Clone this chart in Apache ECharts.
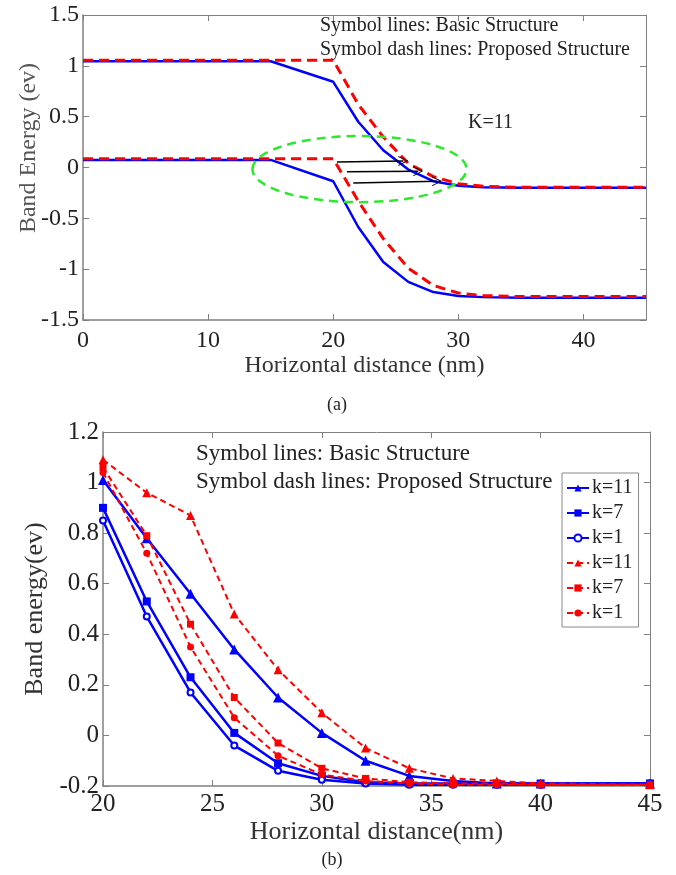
<!DOCTYPE html>
<html>
<head>
<meta charset="utf-8">
<script src="https://cdn.jsdelivr.net/npm/echarts@6/dist/echarts.min.js"></script>
<style>
  html, body { margin: 0; padding: 0; background: #fff; }
  #main { width: 676px; height: 875px; }
</style>
</head>
<body>
<div id="main"></div>
<script>
// (a) band edges along the channel, K=11
const topX = [0, 15, 20, 22, 24, 26, 28, 30, 32, 35, 45]
const basicUpper = [1.045, 1.045, 0.843, 0.45, 0.17, -0.02, -0.135, -0.18, -0.195, -0.2, -0.2]
const proposedUpper = [1.056, 1.056, 1.056, 0.62, 0.30, 0.04, -0.09, -0.16, -0.185, -0.195, -0.195]
const basicLower = [0.075, 0.075, -0.135, -0.585, -0.93, -1.125, -1.225, -1.265, -1.275, -1.28, -1.28]
const proposedLower = [0.085, 0.085, 0.085, -0.33, -0.7, -0.99, -1.16, -1.235, -1.26, -1.27, -1.27]

// arrows inside the highlighted region: [x0, y0, x1, y1]
const arrows = [
  [20.3, 0.055, 25.6, 0.065],
  [21.1, -0.043, 26.8, -0.036],
  [21.6, -0.152, 28.3, -0.135],
]
// highlight ellipse: centre and radii in data units
const ellipseCenter = [22.1, -0.016]
const ellipseRadius = [8.56, 0.325]

// (b) band energy for several k values
const bottomX = [20, 22, 24, 26, 28, 30, 32, 34, 36, 38, 40, 45]
const basicK11 = [1.01, 0.78, 0.56, 0.34, 0.15, 0.01, -0.10, -0.16, -0.18, -0.19, -0.19, -0.19]
const basicK7 = [0.90, 0.53, 0.23, 0.01, -0.11, -0.16, -0.185, -0.19, -0.19, -0.19, -0.19, -0.19]
const basicK1 = [0.85, 0.47, 0.17, -0.04, -0.14, -0.175, -0.19, -0.195, -0.195, -0.195, -0.195, -0.19]
const propK11 = [1.09, 0.96, 0.87, 0.48, 0.26, 0.09, -0.05, -0.13, -0.17, -0.18, -0.19, -0.195]
const propK7 = [1.06, 0.79, 0.44, 0.15, -0.03, -0.13, -0.17, -0.185, -0.19, -0.19, -0.195, -0.195]
const propK1 = [1.04, 0.72, 0.35, 0.07, -0.08, -0.155, -0.18, -0.19, -0.195, -0.195, -0.195, -0.195]

const FONT = "'Liberation Serif', 'Times New Roman', serif"
const BLUE = "#0000ff"
const RED = "#ff0000"
const AXIS = "#808080"
// open "V" arrow head, pointing up before rotation
const CHEVRON = "path://M0,0 L7,12 L5.6,12 L0,2.4 L-5.6,12 L-7,12 Z"

const pairs = (xs, ys) => xs.map((x, i) => [x, ys[i]])

const chart = echarts.init(document.getElementById("main"))

function frameAxes(gridIndex, min, max, interval, fontSize, margin, kind) {
  const main = {
    type: "value",
    gridIndex,
    min,
    max,
    interval,
    axisLine: { show: true, onZero: false, lineStyle: { color: AXIS, width: 1.5 } },
    axisTick: { show: true, inside: true, length: 6, lineStyle: { color: AXIS } },
    splitLine: { show: false },
    axisLabel: {
      fontFamily: FONT,
      fontSize,
      color: "#222",
      margin,
      formatter: (v) => String(+v.toFixed(1)),
    },
  }
  const mirror = {
    type: "value",
    gridIndex,
    min,
    max,
    interval,
    position: kind === "x" ? "top" : "right",
    axisLine: { show: true, onZero: false, lineStyle: { color: AXIS, width: 1 } },
    axisTick: { show: true, inside: true, length: 6, lineStyle: { color: AXIS } },
    axisLabel: { show: false },
    splitLine: { show: false },
  }
  return [main, mirror]
}

const [topXAxis, topXMirror] = frameAxes(0, 0, 45, 10, 24, 9, "x")
topXAxis.axisLabel.showMaxLabel = false
topXAxis.name = "Horizontal distance (nm)"
topXAxis.nameLocation = "middle"
topXAxis.nameGap = 29
topXAxis.nameTextStyle = { fontFamily: FONT, fontSize: 24, color: "#333" }
const [topYAxis, topYMirror] = frameAxes(0, -1.5, 1.5, 0.5, 24, 4, "y")

const [botXAxis, botXMirror] = frameAxes(1, 20, 45, 5, 25, 6, "x")
botXAxis.name = "Horizontal distance(nm)"
botXAxis.nameLocation = "middle"
botXAxis.nameGap = 33
botXAxis.nameTextStyle = { fontFamily: FONT, fontSize: 26, color: "#333" }
const [botYAxis, botYMirror] = frameAxes(1, -0.2, 1.2, 0.2, 25, 4, "y")
botYAxis.name = "Band energy(ev)"
botYAxis.nameLocation = "middle"
botYAxis.nameGap = 46
botYAxis.nameTextStyle = { fontFamily: FONT, fontSize: 26, color: "#333" }

function bandLine(name, ys, color, dashed) {
  return {
    name,
    type: "line",
    xAxisIndex: 0,
    yAxisIndex: 0,
    data: pairs(topX, ys),
    showSymbol: false,
    symbol: "none",
    lineStyle: dashed
      ? { color, width: 3, type: [10, 6] }
      : { color, width: 2.5 },
    z: dashed ? 3 : 2,
  }
}

function kLine(name, ys, color, symbol, size, dashed) {
  return {
    name,
    type: "line",
    xAxisIndex: 2,
    yAxisIndex: 2,
    data: pairs(bottomX, ys),
    symbol,
    symbolSize: size,
    itemStyle: { color, borderColor: color, borderWidth: symbol === "emptyCircle" ? 1.5 : 0 },
    lineStyle: dashed
      ? { color, width: 2, type: [6, 4] }
      : { color, width: 2.5 },
    z: dashed ? 3 : 2,
  }
}

const topSeries = [
  bandLine("basic upper", basicUpper, BLUE, false),
  bandLine("basic lower", basicLower, BLUE, false),
  bandLine("proposed upper", proposedUpper, RED, true),
  bandLine("proposed lower", proposedLower, RED, true),
]
topSeries[0].markLine = {
  silent: true,
  symbol: ["none", CHEVRON],
  symbolSize: [10, 10],
  label: { show: false },
  itemStyle: { color: "#000" },
  lineStyle: { color: "#000", width: 1.5, type: "solid" },
  data: arrows.map((a) => [{ coord: [a[0], a[1]] }, { coord: [a[2], a[3]] }]),
}

const bottomSeries = [
  kLine("k=11 basic", basicK11, BLUE, "triangle", 10, false),
  kLine("k=7 basic", basicK7, BLUE, "rect", 8, false),
  kLine("k=1 basic", basicK1, BLUE, "emptyCircle", 6, false),
  kLine("k=11 proposed", propK11, RED, "triangle", 9, true),
  kLine("k=7 proposed", propK7, RED, "rect", 7, true),
  kLine("k=1 proposed", propK1, RED, "circle", 7, true),
]

const text = (id, str, x, y, size, extra) => ({
  type: "text",
  id,
  x,
  y,
  style: Object.assign(
    { text: str, fontFamily: FONT, fontSize: size, fill: "#222", verticalAlign: "middle" },
    extra || {}
  ),
  z: 20,
})

chart.setOption({
  animation: false,
  backgroundColor: "#fff",
  grid: [
    { left: 83, top: 15, width: 563, height: 305 },
    { left: 103, top: 432, width: 547, height: 354 },
  ],
  xAxis: [topXAxis, topXMirror, botXAxis, botXMirror],
  yAxis: [topYAxis, topYMirror, botYAxis, botYMirror],
  legend: {
    data: bottomSeries.map((s) => s.name),
    orient: "vertical",
    left: 562,
    top: 473,
    itemWidth: 22,
    itemHeight: 9,
    itemGap: 5,
    padding: [5, 6, 4, 4],
    borderColor: "#888",
    borderWidth: 1,
    backgroundColor: "#fff",
    formatter: (name) => name.split(" ")[0],
    textStyle: { fontFamily: FONT, fontSize: 20, color: "#222", padding: [0, 0, 0, -2], lineHeight: 20 },
  },
  graphic: [
    text("t1", "Symbol lines: Basic Structure", 320, 26, 20),
    text("t2", "Symbol dash lines: Proposed Structure", 320, 50, 20),
    text("k11", "K=11", 468, 123, 20),
    text("ya", "Band Energy (ev)", 29, 148, 24, { align: "center", fill: "#555" }),
    text("a", "(a)", 337, 405, 18, { align: "center" }),
    text("b1", "Symbol lines: Basic Structure", 196, 454, 23),
    text("b2", "Symbol dash lines: Proposed Structure", 196, 482, 23),
    text("b", "(b)", 332, 860, 18, { align: "center" }),
  ],
  series: topSeries.concat(bottomSeries),
})

// rotate the (a) y-axis title and add the highlight ellipse in data units
const c = chart.convertToPixel({ gridIndex: 0 }, ellipseCenter)
const edge = chart.convertToPixel({ gridIndex: 0 }, [
  ellipseCenter[0] + ellipseRadius[0],
  ellipseCenter[1] + ellipseRadius[1],
])
chart.setOption({
  graphic: [
    { id: "ya", rotation: Math.PI / 2 },
    {
      type: "ellipse",
      id: "ring",
      shape: { cx: c[0], cy: c[1], rx: edge[0] - c[0], ry: c[1] - edge[1] },
      style: { fill: "none", stroke: "#2ee82e", lineWidth: 2.5, lineDash: [9, 6] },
      z: 15,
    },
  ],
})
</script>
</body>
</html>
